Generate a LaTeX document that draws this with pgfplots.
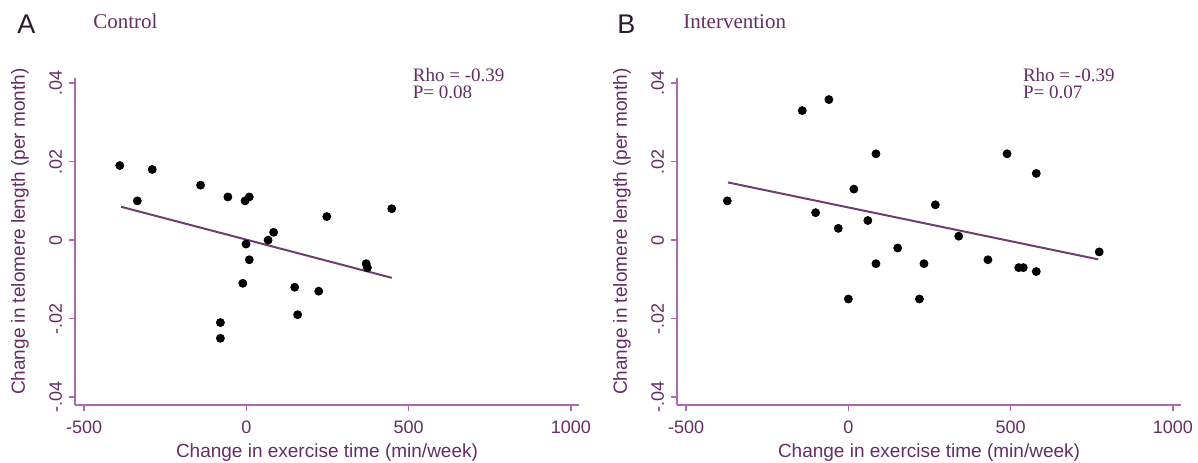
\documentclass[border=0pt]{standalone}
\usepackage{fontspec}
\setmainfont{Liberation Serif}
\newfontfamily\arial{Liberation Sans}
\usepackage{pgfplots}
\pgfplotsset{compat=1.18}
\definecolor{axc}{RGB}{172,105,172}
\definecolor{txc}{RGB}{100,45,100}
\definecolor{lnc}{RGB}{110,62,110}
\definecolor{ttc}{RGB}{45,25,45}
\pgfplotsset{stata/.style={
  width=252pt, height=163.5pt, scale only axis,
  xmin=-528, xmax=1025, ymin=-0.042, ymax=0.0413,
  axis x line*=bottom, axis y line*=left,
  axis line style={draw=axc, line width=0.9pt},
  xtick={-500,0,500,1000}, xticklabels={-500,0,500,1000},
  ytick={-0.04,-0.02,0,0.02,0.04}, yticklabels={-.04,-.02,0,.02,.04},
  scaled y ticks=false, scaled x ticks=false,
  tick align=outside, major tick length=3pt,
  tick style={draw=axc, line width=0.8pt},
  ticklabel style={font=\arial\fontsize{9}{10}\selectfont, text=txc},
  xticklabel style={yshift=-1.5pt},
  yticklabel style={rotate=90, anchor=south},
  xlabel style={font=\arial\fontsize{9.5}{11}\selectfont, text=txc,
    at={(axis description cs:0.5,-0.144)}, anchor=center},
  ylabel style={font=\arial\fontsize{9.5}{11}\selectfont, text=txc,
    at={(axis description cs:-0.109,0.53)}, anchor=center},
  xlabel={Change in exercise time (min/week)},
  ylabel={Change in telomere length (per month)},
  clip=false,
}}
\begin{document}
\begin{tikzpicture}
\useasboundingbox (0,0) rectangle (599pt,231pt);
% Panel A
\begin{axis}[stata, at={(37.5pt,28.5pt)}, anchor=south west]
\addplot[lnc, line width=1pt] coordinates {(-386,0.0085) (448,-0.0096)};
\addplot[only marks, mark=*, mark size=2pt, black] coordinates {
(-390,0.019) (-336,0.010) (-290,0.018) (-141,0.014) (-57,0.011) (-4,0.010)
(9,0.011) (67,0.000) (84,0.002) (-1,-0.001) (9,-0.005) (-11,-0.011)
(-80,-0.021) (-80,-0.025) (149,-0.012) (158,-0.019) (223,-0.013) (248,0.006)
(369,-0.006) (373,-0.007) (448,0.008)};
\node[anchor=base west, font=\fontsize{9.5}{11}\selectfont, text=txc, inner sep=0pt] at (axis cs:512,0.0403) {Rho = -0.39};
\node[anchor=base west, font=\fontsize{9.5}{11}\selectfont, text=txc, inner sep=0pt] at (axis cs:512,0.0362) {P= 0.08};
\end{axis}
% Panel B
\begin{axis}[stata, at={(338.5pt,28.5pt)}, anchor=south west]
\addplot[lnc, line width=1pt] coordinates {(-371,0.0147) (770,-0.0049)};
\addplot[only marks, mark=*, mark size=2pt, black] coordinates {
(-373,0.010) (-142,0.033) (-60,0.0358) (-101,0.007) (-31,0.003) (17,0.013)
(60,0.005) (85,0.022) (85,-0.006) (0,-0.015) (152,-0.002) (233,-0.006)
(219,-0.015) (268,0.009) (340,0.001) (430,-0.005) (489,0.022) (525,-0.007)
(539,-0.007) (579,-0.008) (579,0.017) (773,-0.003)};
\node[anchor=base west, font=\fontsize{9.5}{11}\selectfont, text=txc, inner sep=0pt] at (axis cs:537,0.0403) {Rho = -0.39};
\node[anchor=base west, font=\fontsize{9.5}{11}\selectfont, text=txc, inner sep=0pt] at (axis cs:537,0.0362) {P= 0.07};
\end{axis}
% Titles
\node[anchor=base west, inner sep=0pt, text=ttc, font=\arial\fontsize{13.5}{15}\selectfont] at (8.5pt,214.5pt) {A};
\node[anchor=base west, inner sep=0pt, text=txc, font=\fontsize{10.5}{12}\selectfont] at (46.5pt,217pt) {Control};
\node[anchor=base west, inner sep=0pt, text=ttc, font=\arial\fontsize{13.5}{15}\selectfont] at (308.5pt,214.5pt) {B};
\node[anchor=base west, inner sep=0pt, text=txc, font=\fontsize{10.5}{12}\selectfont] at (341.5pt,217pt) {Intervention};
\end{tikzpicture}
\end{document}
